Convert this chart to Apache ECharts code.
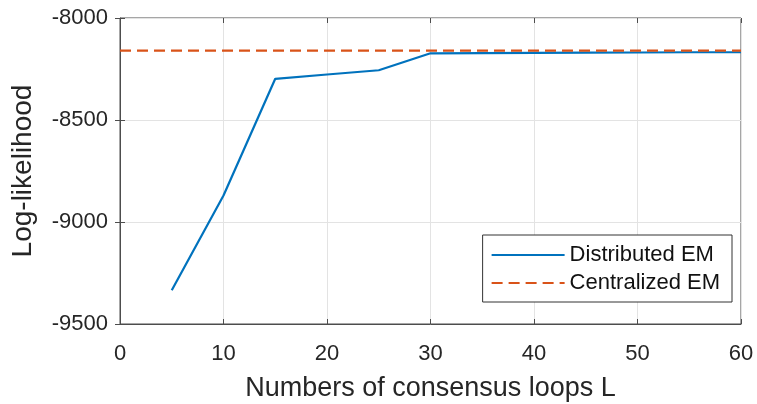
<!DOCTYPE html>
<html>
<head>
<meta charset="utf-8">
<script src="https://cdn.jsdelivr.net/npm/echarts@6/dist/echarts.min.js"></script>
<style>
  html, body { margin: 0; padding: 0; background: #fff; }
  #chart { width: 757px; height: 404px; }
</style>
</head>
<body>
<div id="chart"></div>
<script>
// Number of consensus loops L
const loops = [5, 10, 15, 20, 25, 30, 35, 40, 45, 50, 55, 60];
// Log-likelihood reached by the distributed EM
const distributedEM = [-9335, -8870, -8298, -8277, -8256, -8173, -8172, -8171, -8170, -8169, -8168, -8168];
// Centralized EM reference level, spanning the whole x range
const centralX = [0, 60];
const centralEM = [-8160, -8160];

const xTicks = [0, 10, 20, 30, 40, 50, 60];
const yTicks = [-9500, -9000, -8500, -8000];

const font = 'Liberation Sans, Arial, Helvetica, sans-serif';
const textColor = '#262626';
const axisColor = '#4d4d4d';

const chart = echarts.init(document.getElementById('chart'), null, { renderer: 'canvas' });

const tickOnly = {
  axisLine: { show: false },
  axisLabel: { show: false },
  axisTick: { show: true, inside: true, length: 5, lineStyle: { color: axisColor, width: 1 } },
  splitLine: { show: false }
};

chart.setOption({
  animation: false,
  backgroundColor: '#fff',
  grid: {
    left: 120, top: 18, right: 16, bottom: 80,
    containLabel: false, outerBoundsMode: 'none',
    show: true, borderColor: axisColor, borderWidth: 1, backgroundColor: 'transparent'
  },
  legend: {
    orient: 'vertical',
    right: 25, top: 235,
    padding: [9, 12, 8, 8],
    borderColor: '#333', borderWidth: 1, borderRadius: 0,
    backgroundColor: '#fff',
    itemWidth: 73, itemHeight: 14, itemGap: 6,
    itemStyle: { opacity: 0 },
    textStyle: { fontFamily: font, fontSize: 22, color: '#111', padding: [0, 0, 0, 0] },
    data: ['Distributed EM', 'Centralized EM']
  },
  xAxis: [{
    type: 'value', min: xTicks[0], max: xTicks[xTicks.length - 1], interval: 10,
    name: 'Numbers of consensus loops L', nameLocation: 'middle', nameGap: 51,
    nameTextStyle: { fontFamily: font, fontSize: 27, color: textColor },
    axisLine: { show: true, lineStyle: { color: axisColor, width: 1 } },
    axisTick: { show: true, inside: true, length: 5, lineStyle: { color: axisColor } },
    axisLabel: { fontFamily: font, fontSize: 22, color: textColor, margin: 19, formatter: v => String(v) },
    splitLine: { show: true, lineStyle: { color: '#e3e3e3', width: 1 } }
  }, Object.assign({
    type: 'value', position: 'top', min: xTicks[0], max: xTicks[xTicks.length - 1], interval: 10
  }, tickOnly)],
  yAxis: [{
    type: 'value', min: yTicks[0], max: yTicks[yTicks.length - 1], interval: 500,
    name: 'Log-likelihood', nameLocation: 'middle', nameGap: 83, nameRotate: 90,
    nameTextStyle: { fontFamily: font, fontSize: 28, color: textColor },
    axisLine: { show: true, lineStyle: { color: axisColor, width: 1 } },
    axisTick: { show: true, inside: true, length: 5, lineStyle: { color: axisColor } },
    axisLabel: { fontFamily: font, fontSize: 22, color: textColor, margin: 12, formatter: v => String(v) },
    splitLine: { show: true, lineStyle: { color: '#e3e3e3', width: 1 } }
  }, Object.assign({
    type: 'value', position: 'right', min: yTicks[0], max: yTicks[yTicks.length - 1], interval: 500
  }, tickOnly)],
  series: [{
    name: 'Distributed EM',
    type: 'line',
    symbol: 'none',
    color: '#0072BD',
    lineStyle: { color: '#0072BD', width: 2.2 },
    data: loops.map((x, i) => [x, distributedEM[i]]),
    z: 3
  }, {
    name: 'Centralized EM',
    type: 'line',
    symbol: 'none',
    color: '#D95319',
    lineStyle: { color: '#D95319', width: 2.2, type: [11, 6] },
    data: centralX.map((x, i) => [x, centralEM[i]]),
    z: 4
  }]
});
</script>
</body>
</html>
